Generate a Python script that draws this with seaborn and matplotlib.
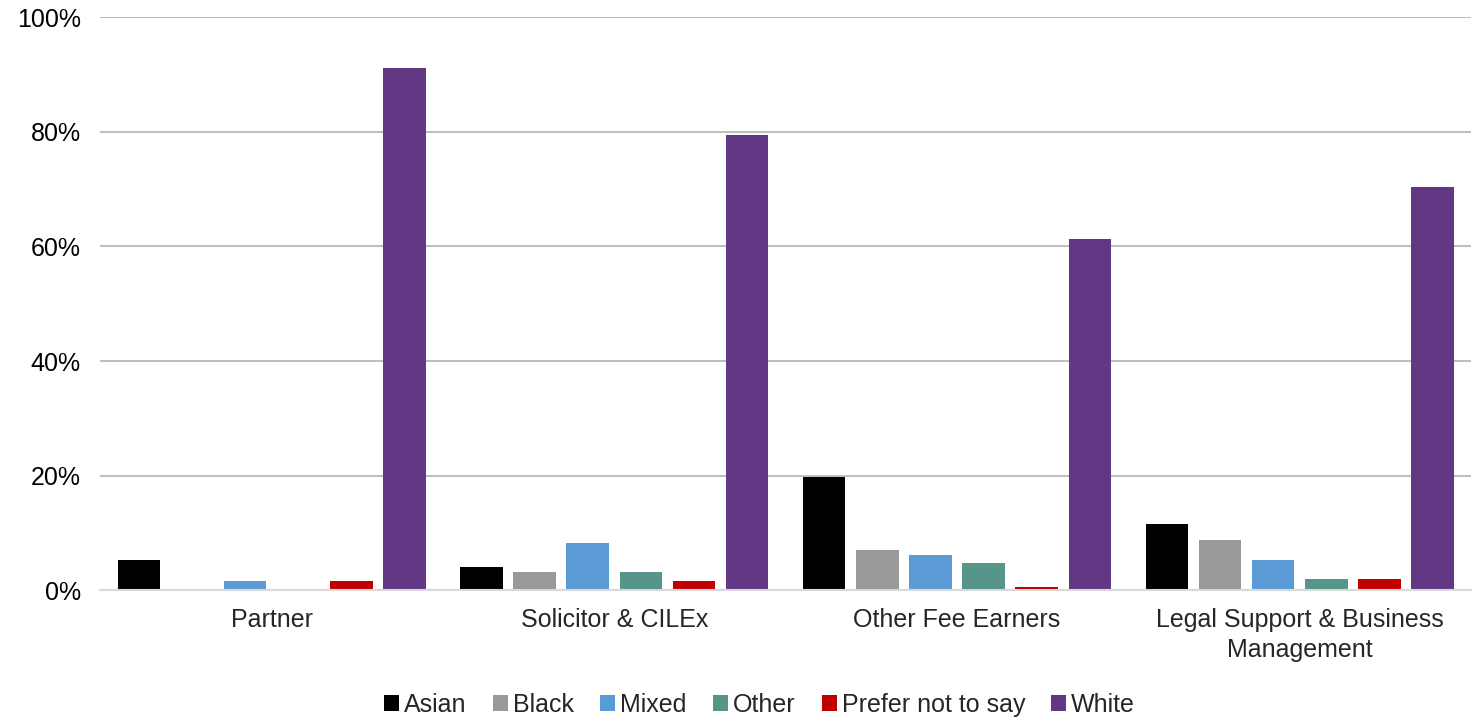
import matplotlib
matplotlib.use("Agg")
import matplotlib.pyplot as plt
from matplotlib.ticker import FixedLocator, PercentFormatter
import pandas as pd
import seaborn as sns

roles = ["Partner", "Solicitor & CILEx", "Other Fee Earners",
         "Legal Support & Business\nManagement"]
groups = ["Asian", "Black", "Mixed", "Other", "Prefer not to say", "White"]

asian = [5.3, 4.0, 19.7, 11.5]
black = [0.0, 3.2, 7.0, 8.7]
mixed = [1.7, 8.2, 6.2, 5.3]
other = [0.0, 3.2, 4.8, 1.9]
prefer_not = [1.7, 1.6, 0.5, 1.9]
white = [91.1, 79.5, 61.3, 70.3]

colours = ["#000000", "#999999", "#5B9BD5", "#56958A", "#C00000", "#623884"]

rows = []
for g, vals in zip(groups, [asian, black, mixed, other, prefer_not, white]):
    for r, v in zip(roles, vals):
        rows.append({"role": r, "group": g, "pct": v})
df = pd.DataFrame(rows)

sns.set_style("white")
plt.rcParams["font.family"] = ["Liberation Sans", "DejaVu Sans"]

fig = plt.figure(figsize=(14.74, 7.19), dpi=100)
ax = fig.add_axes([0.068, 0.179, 0.930, 0.797])

sns.barplot(data=df, x="role", y="pct", hue="group", order=roles,
            hue_order=groups, palette=colours, width=0.93, gap=0.2,
            saturation=1, linewidth=0, ax=ax)

ax.set_ylim(0, 100)
ax.set_xlim(-0.5, 3.5)
ax.yaxis.set_major_locator(FixedLocator([0, 20, 40, 60, 80, 100]))
ax.yaxis.set_major_formatter(PercentFormatter(decimals=0))
ax.grid(axis="y", color="#BFBFBF", linewidth=1.5)
ax.set_axisbelow(True)
for s in ["top", "right", "left"]:
    ax.spines[s].set_visible(False)
ax.spines["bottom"].set_color("#D9D9D9")
ax.spines["bottom"].set_linewidth(1.5)
ax.set_xlabel("")
ax.set_ylabel("")
ax.tick_params(axis="y", length=0, labelsize=18, pad=14, colors="#000000")
ax.tick_params(axis="x", which="major", length=0, labelsize=18, pad=13)
ax.xaxis.set_minor_locator(FixedLocator([-0.5, 0.5, 1.5, 2.5, 3.5]))
ax.tick_params(axis="x", which="minor", length=9, width=1.5, color="#D9D9D9")
for lbl in ax.get_xticklabels():
    lbl.set_linespacing(1.3)

ax.legend(loc="upper center", bbox_to_anchor=(0.481, -0.14), ncol=6,
          frameon=False, fontsize=18, handlelength=0.6, handleheight=0.6,
          handletextpad=0.2, columnspacing=1.05)

fig.savefig("out.png", dpi=100)
